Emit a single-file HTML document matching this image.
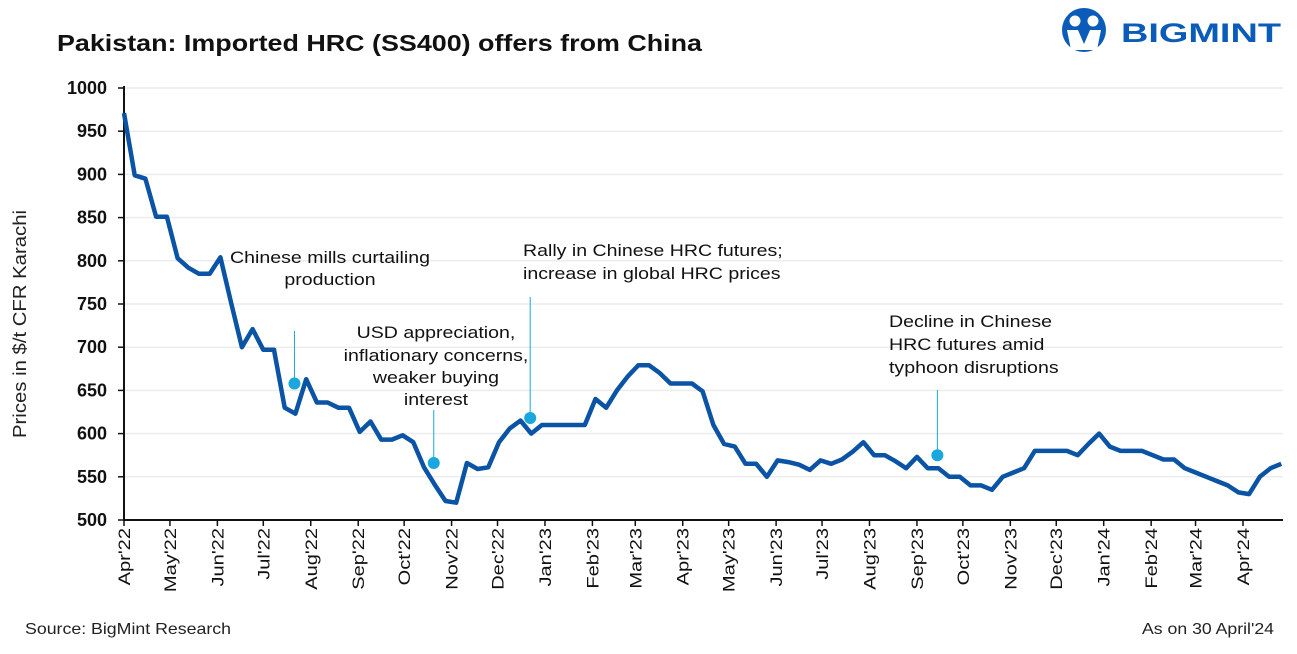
<!DOCTYPE html>
<html><head><meta charset="utf-8">
<style>
body{margin:0;background:#fff;width:1297px;height:649px;overflow:hidden;font-family:"Liberation Sans",sans-serif;}
</style></head>
<body>
<svg id="chart" width="1297" height="649" xmlns="http://www.w3.org/2000/svg" font-family="Liberation Sans, sans-serif">
<text x="57" y="51" font-size="23" font-weight="bold" fill="#111" textLength="645" lengthAdjust="spacingAndGlyphs">Pakistan: Imported HRC (SS400) offers from China</text>
<g>
<circle cx="1084" cy="30" r="22" fill="#0a5cb8"/>
<circle cx="1075" cy="21" r="5.5" fill="#fff"/><circle cx="1093" cy="21" r="5.5" fill="#fff"/>
<path d="M1067 30 L1078 30 L1084 44 L1090 30 L1101 30 L1097 50 L1071 50 Z" fill="#fff"/>
<text x="1121" y="42" font-size="27" font-weight="bold" fill="#0a5cb8" textLength="160" lengthAdjust="spacingAndGlyphs">BIGMINT</text>
</g>
<text transform="translate(26,324) rotate(-90)" text-anchor="middle" font-size="18" fill="#222" textLength="228" lengthAdjust="spacingAndGlyphs">Prices in $/t CFR Karachi</text>
<g id="grid"></g><g id="axes"></g><g id="series"></g><g id="annots"></g>
<text x="25" y="634" font-size="16" fill="#222" textLength="206" lengthAdjust="spacingAndGlyphs">Source: BigMint Research</text>
<text x="1142" y="634" font-size="16" fill="#222" textLength="132" lengthAdjust="spacingAndGlyphs">As on 30 April'24</text>
</svg>
<script>
const prices = [971,899,895,851,851,803,792,785,785,804,751,700,721,697,697,630,623,663,636,636,630,630,602,614,593,593,598,590,561,541,522,520,566,559,561,590,606,615,600,610,610,610,610,610,640,630,650,666,679,679,670,658,658,658,649,610,588,585,565,565,550,569,567,564,558,569,565,570,579,590,575,575,568,560,573,560,560,550,550,540,540,535,550,555,560,580,580,580,580,575,588,600,585,580,580,580,575,570,570,560,555,550,545,540,532,530,550,560,565];
const monthLabels = ["Apr'22","May'22","Jun'22","Jul'22","Aug'22","Sep'22","Oct'22","Nov'22","Dec'22","Jan'23","Feb'23","Mar'23","Apr'23","May'23","Jun'23","Jul'23","Aug'23","Sep'23","Oct'23","Nov'23","Dec'23","Jan'24","Feb'24","Mar'24","Apr'24"];
const yTicks = [500,550,600,650,700,750,800,850,900,950,1000];
const annotWeeks = [16,29,38,76];
const annotValues = [658,566,618,575];

const NS="http://www.w3.org/2000/svg";
const start = Date.UTC(2022,3,1);
const pxPerDay = (1243-124)/731;
function xDay(d){return 124 + d*pxPerDay;}
function xWeek(i){return xDay(i*7);}
function y(v){return 520 - (v-500)*432/500;}
function mk(tag,attrs,parent){const e=document.createElementNS(NS,tag);for(const k in attrs)e.setAttribute(k,attrs[k]);parent.appendChild(e);return e;}
function widen(el,f){const w=el.getComputedTextLength();el.setAttribute('textLength',(w*f).toFixed(1));el.setAttribute('lengthAdjust','spacingAndGlyphs');}
const grid=document.getElementById('grid'),axes=document.getElementById('axes'),series=document.getElementById('series'),annots=document.getElementById('annots');
yTicks.forEach(v=>{
  if(v>500){const g=mk('line',{x1:124,x2:1283,y1:y(v),y2:y(v),stroke:'#ececec','stroke-width':1.5},grid);
  
  }
  const t=mk('line',{x1:118,x2:124,y1:y(v),y2:y(v),stroke:'#111','stroke-width':1.5},axes);
  
  
  const l=mk('text',{x:107,y:y(v)+6,'text-anchor':'end','font-size':18,'font-weight':'bold',fill:'#111'},axes);
  l.textContent=v;
  
  
});
mk('line',{x1:124,x2:124,y1:86,y2:521,stroke:'#111','stroke-width':2},axes);
mk('line',{x1:123,x2:1283,y1:520,y2:520,stroke:'#111','stroke-width':2},axes);
monthLabels.forEach((m,i)=>{
  const d=(Date.UTC(2022,3+i,1)-start)/86400000;
  const x=xDay(d);
  const t=mk('line',{x1:x,x2:x,y1:520,y2:526,stroke:'#111','stroke-width':1.5},axes);
  
  
  const l=mk('text',{transform:`translate(${x+6},528) rotate(-90)`,'text-anchor':'end','font-size':17,fill:'#111'},axes);
  l.textContent=m;
  
  
  widen(l,1.18);
});
const pts=prices.map((v,i)=>xWeek(i).toFixed(1)+','+y(v).toFixed(1)).join(' ');
const line=mk('polyline',{points:pts,fill:'none',stroke:'#0a53a5','stroke-width':4.5,'stroke-linejoin':'round'},series);


const lineTops=[331,410,297,390];
annotWeeks.forEach((w,i)=>{
  const x=xWeek(w)-1;
  const l=mk('line',{x1:x,x2:x,y1:lineTops[i],y2:y(annotValues[i]),stroke:'#1aa6df','stroke-width':1},annots);
  
  
  const c=mk('circle',{cx:x,cy:y(annotValues[i]),r:6,fill:'#1aa6df'},annots);
  
  
});
const notes=[
 {x:330,ys:[263,285],a:'middle',lines:["Chinese mills curtailing","production"]},
 {x:436,ys:[338,361,383,405],a:'middle',lines:["USD appreciation,","inflationary concerns,","weaker buying","interest"]},
 {x:523,ys:[256,279],a:'start',lines:["Rally in Chinese HRC futures;","increase in global HRC prices"]},
 {x:889,ys:[327,350,373],a:'start',lines:["Decline in Chinese","HRC futures amid","typhoon disruptions"]}
];
notes.forEach(n=>{
  n.lines.forEach((s,j)=>{
    const t=mk('text',{x:n.x,y:n.ys[j],'text-anchor':n.a,'font-size':17,fill:'#111'},annots);
    t.textContent=s;
    
    
    widen(t,1.15);
  });
});
</script>
</body></html>
